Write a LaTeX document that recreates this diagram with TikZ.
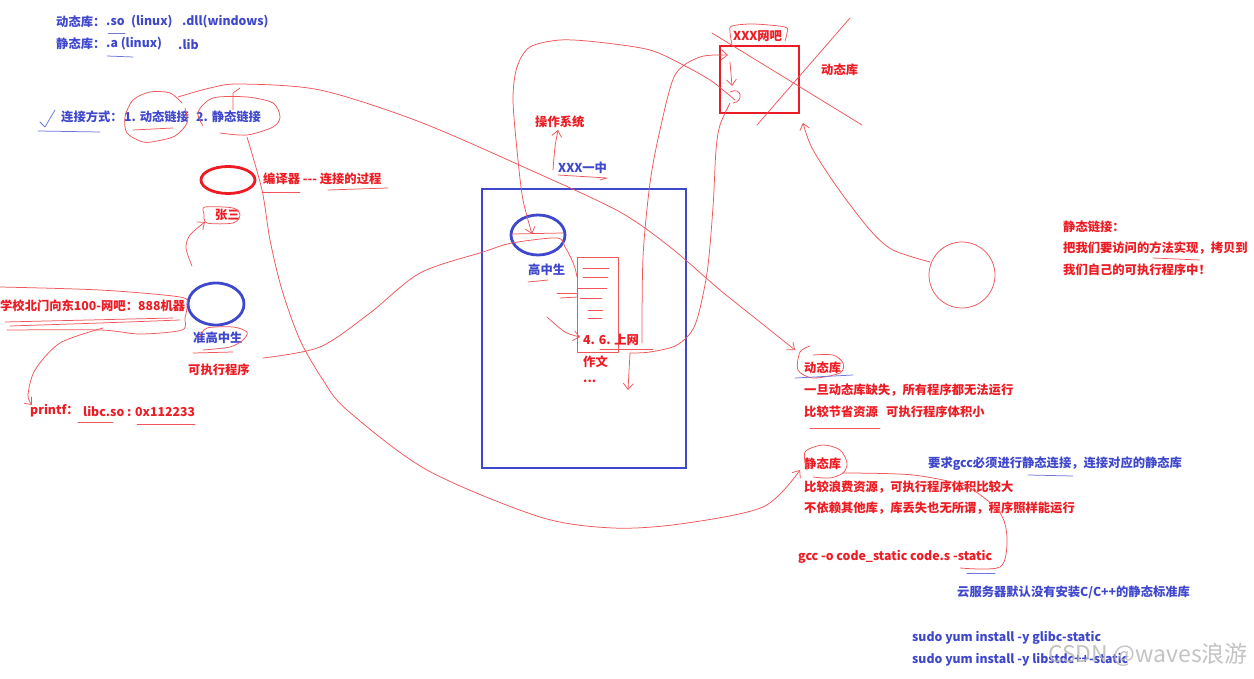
\documentclass[tikz,border=0pt]{standalone}
\usepackage{fontspec}
\setmainfont{Noto Sans CJK SC}
\usetikzlibrary{arrows.meta,shapes.geometric}
\definecolor{ired}{RGB}{237,28,36}
\definecolor{iblue}{RGB}{63,72,204}
\definecolor{lred}{RGB}{240,85,90}
\definecolor{lblue}{RGB}{110,118,220}
\tikzset{
  txt/.style={anchor=west,inner sep=0pt,font=\fontsize{12.3}{14}\selectfont\bfseries},
  rt/.style={txt,text=ired},
  bt/.style={txt,text=iblue},
  pen/.style={draw=lred,line width=0.75pt,line cap=round,line join=round},
  bpen/.style={draw=lblue,line width=0.75pt,line cap=round,line join=round},
  barb/.style={-{Straight Barb[length=6pt,width=10pt,line width=0.75pt]}},
  thickred/.style={draw=ired,line width=2.8pt},
  thickblue/.style={draw=iblue,line width=2.8pt},
}
\begin{document}
\begin{tikzpicture}[x=1pt,y=-1pt]
\useasboundingbox (0,0) rectangle (1254,679);
\fill[white] (0,0) rectangle (1254,679);

% ---------- top-left blue texts
\node[bt] (dyn1) at (56,22) {动态库：};
\node[bt] (so) at (106,22) {.so};
\node[bt] (lx1) at (131,22) {(linux)};
\node[bt] (dll) at (182,22) {.dll(windows)};
\node[bt] (sta1) at (56,44) {静态库：};
\node[bt] (a) at (106,44) {.a (linux)};
\node[bt] (lib) at (178,44) {.lib};
\draw[bpen] (108,33) -- (125,33);
\draw[bpen] (107,56) -- (133,57);

% ---------- link modes
\draw[bpen] (40,122) -- (45,127) -- (55,110);
\draw[bpen] (38,131) -- (100,132);
\node[bt] (mode) at (61,117) {连接方式：};
\node[bt] (m1) at (124,117) {1. 动态链接};
\node[bt] (m2) at (196,117) {2. 静态链接};
\draw[pen] plot[smooth] coordinates {(182,103) (170,93) (150,92) (133,100) (125,117) (127,133) (143,142) (157,141) (175,136) (187,123) (185,108)};
\draw[pen] (133,130) -- (173,128);
\draw[pen] plot[smooth] coordinates {(203,126) (198,112) (213,98) (247,97) (273,103) (280,117) (273,127) (247,135) (220,133)};
\draw[pen] (233,110) -- (233,93) -- (240,88);

% ---------- compiler
\node[ellipse,thickred,minimum width=54pt,minimum height=27pt,inner sep=0pt] (comp) at (228,180) {};
\node[rt] (compt) at (263,179) {编译器 -{}-{}- 连接的过程};
\draw[pen] (262,192) -- (300,192);
\draw[pen] (328,190) -- (388,188);
\node[rt] (zs) at (215,215) {张三};
\draw[pen] plot[smooth cycle] coordinates {(205,207) (233,208) (240,215) (233,223) (207,223) (204,214)};

% ---------- pre high-school
\node[ellipse,thickblue,minimum width=56pt,minimum height=42pt,inner sep=0pt] (pre) at (216,304) {};
\node[bt] (pret) at (193,338) {准高中生};
\node[rt] (exe) at (188,370) {可执行程序};
\draw[pen] plot[smooth] coordinates {(200,337) (207,328) (233,327) (247,332) (243,340) (230,347) (203,350)};
\draw[pen] (193,353) -- (233,352);
\draw[pen,barb] plot[smooth] coordinates {(192,266) (186,248) (190,235) (205,222)};

\node[rt] (school) at (0,306) {学校北门向东100-网吧：888机器};
\draw[pen] plot[smooth] coordinates {(0,287) (100,290) (180,297) (187,305) (185,318) (182,330) (140,334) (100,330) (7,330)};
\draw[pen] (5,322) -- (173,318);
\draw[pen] plot[smooth] coordinates {(10,326) (100,323) (180,320)};
\draw[pen,barb] plot[smooth] coordinates {(103,328) (60,343) (35,370) (28,395) (32,405)};
\node[rt] (pf) at (30,411) {printf：};
\node[rt] (libc) at (83,411) {libc.so : 0x112233};
\draw[pen] (78,422) -- (113,422);
\draw[pen] (137,424) -- (195,424);

% ---------- high school box
\draw[thickblue] (482,189) rectangle (686,468);
\node[ellipse,thickblue,minimum width=54pt,minimum height=40pt,inner sep=0pt] (hs) at (538,235) {};
\node[bt] (hst) at (528,270) {高中生};
\draw[pen] (512,234) -- (563,233);
\draw[pen] (528,282) -- (548,280);
\draw[pen] (557,293) -- (577,293);
\draw[pen] (560,298) -- (578,297);
\draw[pen] (577,257) rectangle (618,352);
\foreach \y/\a/\b in {268/583/609,277/583/608,288/578/607,298/580/602,310/588/603,318/588/602}
  \draw[pen] (\a,\y) -- (\b,\y);
\node[rt] (net) at (583,340) {4. 6. 上网};
\node[rt] (essay) at (583,362) {作文};
\node[rt] (dots) at (583,381) {...};
\draw[pen,barb] plot[smooth] coordinates {(547,317) (565,332) (580,337)};

\node[rt] (os) at (535,122) {操作系统};
\node[bt] (one) at (558,168) {XXX一中};
\draw[pen] (558,175) -- (607,178) -- (600,180);
\draw[pen,barb] plot[smooth] coordinates {(553,170) (555,147) (558,130)};

% ---------- net bar
\draw[thickred] (720,46) rectangle (799,113);
\node[rt] (bar) at (733,36) {XXX网吧};
\draw[pen] plot[smooth] coordinates {(732,45) (730,32) (732,26) (753,24) (785,27) (787,33) (785,41)};
\draw[pen] (712,33) -- (862,125);
\draw[pen] (850,18) -- (757,125);
\node[rt] (dynt) at (821,70) {动态库};
\draw[pen,barb] (730,62) -- (732,86);
\draw[pen] (730,92) .. controls (742,86) and (744,102) .. (733,103);

% curve from 上网 up to the bar
\draw[pen,barb] plot[smooth] coordinates {(642,343) (643,257) (650,183) (660,130) (675,75) (700,57) (728,55)};
% curve from bar down
\draw[pen] plot[smooth] coordinates {(730,103) (720,125) (716,150) (713,207) (707,273) (695,325) (677,345) (650,352) (630,353)};
\draw[pen] (600,349) -- (653,349);
\draw[pen,barb] (630,353) -- (628,390);
% curve from bar to 高中生
\draw[pen,barb] plot[smooth] coordinates {(735,100) (723,90) (710,80) (687,67) (650,50) (597,42) (560,40) (530,47) (517,67) (513,100) (518,160) (523,200) (532,234)};
% 准高中生 -> 高中生
\draw[pen] plot[smooth] coordinates {(263,358) (320,347) (370,313) (420,273) (483,252) (512,243) (557,238) (565,247) (571,258) (575,268) (577,277)};

% ---------- static link circle
\node[circle,pen,minimum size=66pt,inner sep=0pt] (sc) at (962,275) {};
\draw[pen,barb] plot[smooth] coordinates {(930,262) (893,250) (870,230) (837,187) (812,148) (803,123)};
\node[rt] (sl1) at (1063,227) {静态链接：};
\node[rt] (sl2) at (1063,248) {把我们要访问的方法实现，拷贝到};
\node[rt] (sl3) at (1063,270) {我们自己的可执行程序中！};
\draw[pen] (1153,258) -- (1200,260);

% ---------- big curves
\draw[pen,barb] plot[smooth] coordinates {(178,97) (210,88) (240,84) (320,90) (420,122) (537,173) (620,212) (670,247) (720,290) (760,322) (795,350)};
\draw[pen,barb] plot[smooth] coordinates {(247,137) (262,190) (270,240) (282,290) (300,340) (323,380) (347,410) (427,470) (540,517) (613,528) (680,524) (763,507) (800,470)};

% ---------- dynamic library notes
\node[rt] (dl) at (804,368) {动态库};
\draw[pen] plot[smooth] coordinates {(813,355) (833,355) (843,363) (840,373) (813,378) (798,370) (800,352) (810,346)};
\draw[bpen] (795,378) -- (853,375);
\node[rt] (dl1) at (804,390) {一旦动态库缺失，所有程序都无法运行};
\node[rt] (dl2) at (804,412) {比较节省资源};
\node[rt] (dl3) at (886,412) {可执行程序体积小};
\draw[pen] (810,428) -- (880,428);

% ---------- static library notes
\node[rt] (st) at (804,464) {静态库};
\draw[pen] plot[smooth] coordinates {(807,470) (805,452) (823,445) (840,450) (847,463) (843,473) (830,478) (813,477)};
\node[bt] (req) at (928,464) {要求gcc必须进行静态连接，连接对应的静态库};
\draw[bpen] (1028,475) -- (1073,476);
\node[rt] (st1) at (804,487) {比较浪费资源，可执行程序体积比较大};
\node[rt] (st2) at (804,508) {不依赖其他库，库丢失也无所谓，程序照样能运行};
\draw[pen] plot[smooth] coordinates {(843,473) (913,475) (967,487) (1000,513) (1007,540) (1000,567) (960,568)};
\node[rt] (gcc) at (798,557) {gcc -o code\_static code.s -static};
\draw[bpen] (967,573) -- (995,573);
\node[bt] (cloud) at (957,592) {云服务器默认没有安装C/C++的静态标准库};
\node[bt] (y1) at (912,638) {sudo yum install -y glibc-static};
\node[bt] (y2) at (912,660) {sudo yum install -y libstdc++-static};

% ---------- watermark
\node[anchor=west,inner sep=0pt,text=gray!55,opacity=0.85,font=\fontsize{23}{25}\selectfont] (wm) at (1048,655) {CSDN @waves浪游};
\end{tikzpicture}
\end{document}
